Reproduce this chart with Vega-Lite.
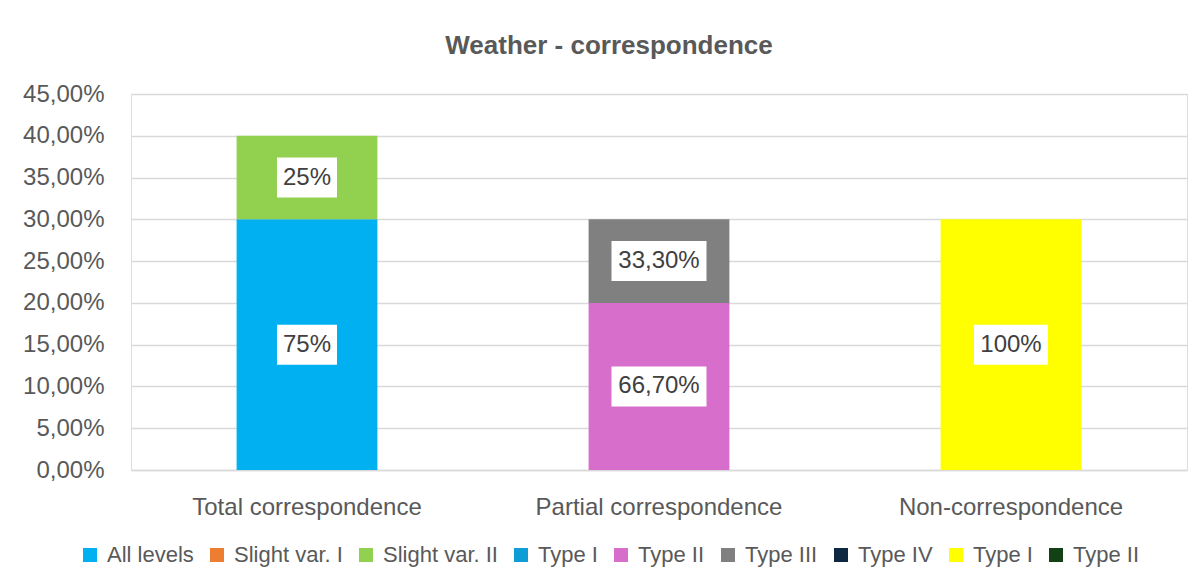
{
  "$schema": "https://vega.github.io/schema/vega-lite/v6.json",
  "width": 1056,
  "height": 376,
  "autosize": {"type": "none"},
  "padding": {"left": 131, "top": 94, "right": 10, "bottom": 114},
  "background": "white",
  "title": {
    "text": "Weather - correspondence",
    "anchor": "middle",
    "frame": "group",
    "dx": -50,
    "offset": 23,
    "font": "Liberation Sans",
    "fontSize": 26,
    "fontWeight": "bold",
    "color": "#595959"
  },
  "data": {
    "values": [
      {"category": "Total correspondence", "series": "1 All levels", "value": 0.30, "label": "75%"},
      {"category": "Total correspondence", "series": "3 Slight var. II", "value": 0.10, "label": "25%"},
      {"category": "Partial correspondence", "series": "5 Type II", "value": 0.20, "label": "66,70%"},
      {"category": "Partial correspondence", "series": "6 Type III", "value": 0.10, "label": "33,30%"},
      {"category": "Non-correspondence", "series": "8 Type I", "value": 0.30, "label": "100%"}
    ]
  },
  "transform": [
    {"stack": "value", "groupby": ["category"], "sort": [{"field": "series", "order": "ascending"}], "as": ["v0", "v1"]},
    {"calculate": "(datum.v0 + datum.v1) / 2", "as": "mid"}
  ],
  "encoding": {
    "x": {
      "field": "category",
      "type": "nominal",
      "sort": ["Total correspondence", "Partial correspondence", "Non-correspondence"],
      "scale": {"paddingInner": 0.6, "paddingOuter": 0.3},
      "axis": {
        "title": null,
        "labelAngle": 0,
        "labelLimit": 0,
        "labelFont": "Liberation Sans",
        "labelFontSize": 24,
        "labelColor": "#595959",
        "labelPadding": 25,
        "ticks": false,
        "tickSize": 0,
        "domain": true,
        "domainColor": "#D9D9D9",
        "domainWidth": 1.5
      }
    }
  },
  "layer": [
    {
      "mark": {"type": "bar"},
      "encoding": {
        "y": {
          "field": "v0",
          "type": "quantitative",
          "scale": {"domain": [0, 0.45], "nice": false},
          "axis": {
            "title": null,
            "values": [0, 0.05, 0.1, 0.15, 0.2, 0.25, 0.3, 0.35, 0.4, 0.45],
            "labelExpr": "replace(format(datum.value, '.2%'), '.', ',')",
            "labelFont": "Liberation Sans",
            "labelFontSize": 24,
            "labelColor": "#595959",
            "labelPadding": 27,
            "ticks": false,
            "tickSize": 0,
            "domain": false,
            "grid": true,
            "gridColor": "#D9D9D9",
            "gridWidth": 1.5
          }
        },
        "y2": {"field": "v1"},
        "color": {
          "field": "series",
          "type": "nominal",
          "scale": {
            "domain": ["1 All levels", "2 Slight var. I", "3 Slight var. II", "4 Type I", "5 Type II", "6 Type III", "7 Type IV", "8 Type I", "9 Type II"],
            "range": ["#00B0F0", "#ED7D31", "#92D050", "#0E9ED5", "#D86ECC", "#808080", "#0E2841", "#FFFF00", "#124116"]
          },
          "legend": {
            "title": null,
            "orient": "none",
            "direction": "horizontal",
            "legendX": -52,
            "legendY": 450,
            "columns": 9,
            "labelExpr": "slice(datum.value, 2)",
            "labelFont": "Liberation Sans",
            "labelFontSize": 22,
            "labelColor": "#595959",
            "labelOffset": 6,
            "columnPadding": 12,
            "symbolType": "square",
            "symbolSize": 196,
            "symbolStrokeWidth": 0,
            "symbolOpacity": 1
          }
        }
      }
    },
    {
      "mark": {"type": "point", "filled": true, "color": "white", "opacity": 1, "size": 1600},
      "encoding": {
        "y": {"field": "mid", "type": "quantitative"},
        "shape": {
          "field": "label",
          "type": "nominal",
          "scale": {
            "domain": ["75%", "25%", "66,70%", "33,30%", "100%"],
            "range": [
              "M-1.5,-1L1.5,-1L1.5,1L-1.5,1Z",
              "M-1.5,-1L1.5,-1L1.5,1L-1.5,1Z",
              "M-2.375,-1L2.375,-1L2.375,1L-2.375,1Z",
              "M-2.375,-1L2.375,-1L2.375,1L-2.375,1Z",
              "M-1.85,-1L1.85,-1L1.85,1L-1.85,1Z"
            ]
          },
          "legend": null
        }
      }
    },
    {
      "mark": {"type": "text", "font": "Liberation Sans", "fontSize": 24, "color": "#404040", "baseline": "middle", "align": "center"},
      "encoding": {
        "y": {"field": "mid", "type": "quantitative"},
        "text": {"field": "label", "type": "nominal"}
      }
    }
  ]
}
